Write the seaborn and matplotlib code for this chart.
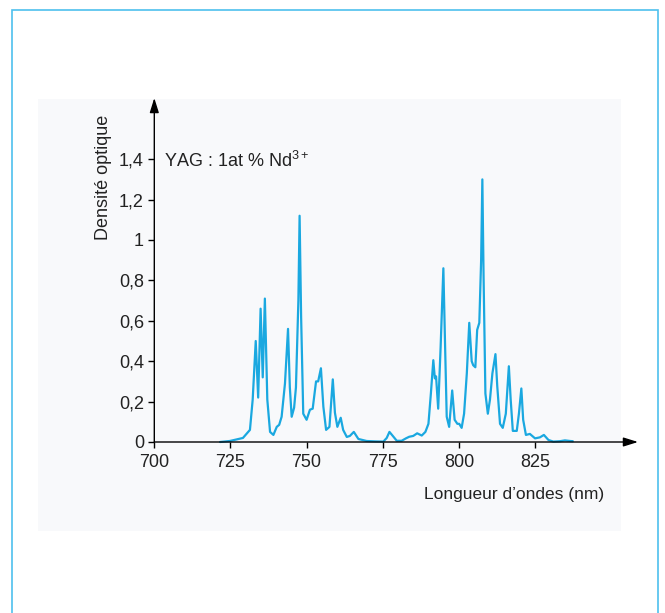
import matplotlib
matplotlib.use("Agg")
import matplotlib.pyplot as plt
from matplotlib.patches import Rectangle
import pandas as pd
import seaborn as sns

# absorption spectrum
wavelength = [721.6, 724.8, 729.1, 731.4, 732.3, 733.3, 734.1, 734.9, 735.6, 736.3,
              737.1, 738.0, 739.1, 740.2, 741.0, 741.8, 742.9, 743.9, 744.5, 745.1,
              745.9, 746.5, 747.3, 747.7, 748.2, 748.9, 750.0, 751.1, 752.0, 753.1,
              753.8, 754.7, 755.5, 756.4, 757.5, 758.6, 759.3, 760.1, 761.2, 762.0,
              763.2, 764.2, 765.5, 767.0, 769.7, 772.5, 775.2, 776.3, 777.2, 778.3,
              779.6, 781.2, 782.6, 783.7, 785.0, 786.3, 787.8, 789.0, 790.0, 790.8,
              791.6, 792.1, 792.5, 793.2, 794.0, 794.9, 795.4, 796.0, 796.8, 797.8,
              798.6, 799.5, 800.1, 800.9, 801.7, 802.6, 803.4, 804.2, 804.7, 805.4,
              806.0, 806.7, 807.3, 807.7, 808.1, 808.7, 809.5, 810.2, 811.0, 812.0,
              812.6, 813.5, 814.4, 815.4, 816.4, 817.0, 817.7, 819.0, 819.7, 820.5,
              821.1, 822.0, 823.3, 825.0, 826.6, 827.9, 829.4, 831.0, 833.2, 834.8,
              836.5, 837.4]
density = [0.0, 0.005, 0.02, 0.06, 0.21, 0.50, 0.22, 0.66, 0.32, 0.71,
           0.21, 0.05, 0.035, 0.075, 0.085, 0.125, 0.29, 0.56, 0.27, 0.125,
           0.17, 0.27, 0.70, 1.12, 0.62, 0.14, 0.11, 0.16, 0.165, 0.30,
           0.30, 0.365, 0.175, 0.06, 0.075, 0.31, 0.145, 0.075, 0.12, 0.06,
           0.025, 0.03, 0.05, 0.015, 0.005, 0.003, 0.002, 0.02, 0.05, 0.03,
           0.006, 0.006, 0.018, 0.026, 0.03, 0.043, 0.032, 0.05, 0.09, 0.24,
           0.405, 0.315, 0.325, 0.165, 0.47, 0.86, 0.52, 0.125, 0.075, 0.255,
           0.11, 0.09, 0.09, 0.07, 0.14, 0.34, 0.59, 0.40, 0.38, 0.37,
           0.555, 0.59, 0.90, 1.30, 0.82, 0.24, 0.14, 0.21, 0.34, 0.435,
           0.275, 0.09, 0.07, 0.14, 0.375, 0.21, 0.055, 0.055, 0.14, 0.265,
           0.11, 0.035, 0.04, 0.018, 0.023, 0.035, 0.01, 0.002, 0.004, 0.008,
           0.005, 0.004]

x_ticks = [700, 725, 750, 775, 800, 825]
y_ticks = [0, 0.2, 0.4, 0.6, 0.8, 1.0, 1.2, 1.4]
y_tick_labels = ["0", "0,2", "0,4", "0,6", "0,8", "1", "1,2", "1,4"]

df = pd.DataFrame({"wl": wavelength, "od": density})

sns.set_style("white")
plt.rcParams["font.family"] = ["Liberation Sans", "DejaVu Sans"]
plt.rcParams["mathtext.fontset"] = "custom"
plt.rcParams["mathtext.rm"] = "Liberation Sans"

W, H = 665, 613
fig = plt.figure(figsize=(W / 100, H / 100), dpi=100)
fig.patch.set_facecolor("white")

# light panel and blue frame (behind the axes)
fig.patches.append(Rectangle((38 / W, 1 - 531 / H), (621 - 38) / W, (531 - 99) / H,
                             transform=fig.transFigure, facecolor="#f8f9fb",
                             edgecolor="none", zorder=-5))
fig.patches.append(Rectangle((12 / W, -0.05), (658 - 12) / W, 1.05 - 10 / H,
                             transform=fig.transFigure, facecolor="none",
                             edgecolor="#4ec0ee", lw=1.2, zorder=-5))

ax = fig.add_axes([154.3 / W, 1 - 442 / H, (638 - 154.3) / W, (442 - 98) / H])
ax.patch.set_visible(False)

sns.lineplot(data=df, x="wl", y="od", ax=ax, color="#1aa8e0", lw=1.6,
             sort=False, estimator=None)
ax.lines[-1].set_clip_on(False)

ax.set_xlim(700, 700 + (638 - 154.3) / 3.046)
ax.set_ylim(0, 344 / 202)
for s in ax.spines.values():
    s.set_visible(False)

# axes with arrow heads
arrow = dict(arrowstyle="-|>,head_length=0.8,head_width=0.25", color="black",
             lw=1.0, shrinkA=0, shrinkB=0, mutation_scale=11)
ax.annotate("", xy=(1, 0), xytext=(0, 0), xycoords="axes fraction", arrowprops=arrow)
ax.annotate("", xy=(0, 1), xytext=(0, 0), xycoords="axes fraction", arrowprops=arrow)

ax.set_xticks(x_ticks)
ax.set_yticks(y_ticks)
ax.set_yticklabels(y_tick_labels)
ax.tick_params(axis="both", direction="out", length=4.5, width=1, color="black",
               labelsize=13, labelcolor="#222222", left=True, bottom=True)
ax.tick_params(axis="x", pad=4)
ax.tick_params(axis="y", pad=3)

ax.set_xlabel("Longueur d\u2019ondes (nm)", fontsize=12.5, color="#222222")
ax.xaxis.set_label_coords(0.744, -0.13)
ax.set_ylabel("Densité optique", fontsize=13, color="#222222")
ax.yaxis.set_label_coords(-0.087, 0.77)

ax.text(703.2, 1.363, r"YAG : 1at % Nd$^{3+}$", fontsize=13, color="#222222",
        va="baseline", ha="left")

fig.savefig("out.png", dpi=100)
